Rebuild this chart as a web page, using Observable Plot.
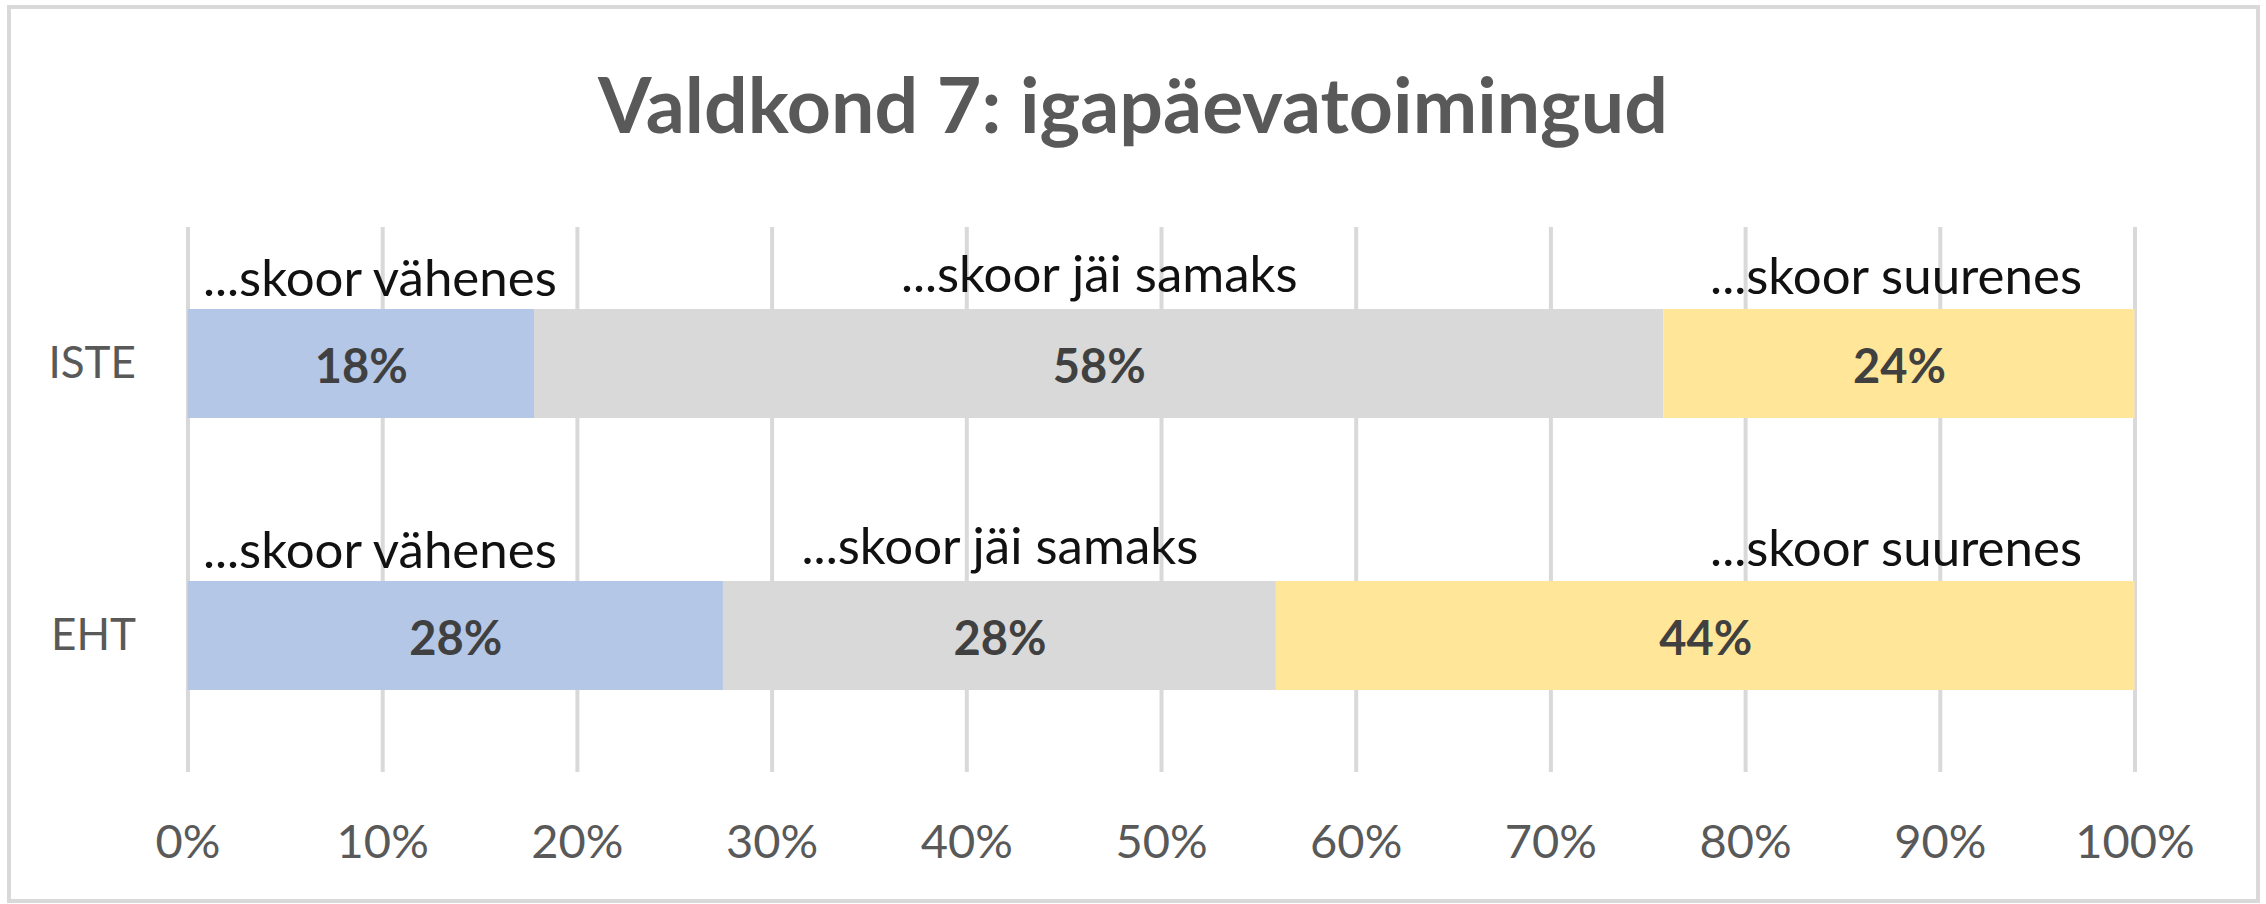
<!DOCTYPE html>
<html><head><meta charset="utf-8">
<script src="https://cdn.jsdelivr.net/npm/d3@7"></script>
<script src="https://cdn.jsdelivr.net/npm/@observablehq/plot@0.6"></script>
<style>
html,body{margin:0;padding:0;background:#fff;}
#chart{position:relative;width:2266px;height:904px;overflow:hidden;font-family:Lato,sans-serif;background:#fff;}
#frame{position:absolute;left:7px;top:5px;width:2253px;height:898px;box-sizing:border-box;border:4px solid #d9d9d9;pointer-events:none;}
#title{height:200px;box-sizing:border-box;padding-top:65px;text-align:center;font:bold 77px/1 Lato,sans-serif;color:#595959;white-space:nowrap;}
#plot svg{display:block;}
</style></head><body>
<div id="chart"><div id="title"></div><div id="plot"></div><div id="frame"></div></div>
<script>
const titleText = "Valdkond 7: igapäevatoimingud";
const groups = ["ISTE", "EHT"];
const categories = ["...skoor vähenes", "...skoor jäi samaks", "...skoor suurenes"];
const isteValues = [17.8, 58.0, 24.2];
const ehtValues = [27.5, 28.4, 44.1];
const xTicks = [0, 10, 20, 30, 40, 50, 60, 70, 80, 90, 100];
const colors = ["#b4c7e7", "#d9d9d9", "#ffe699"];

document.getElementById("title").textContent = titleText;

const series = {ISTE: isteValues, EHT: ehtValues};
const data = [];
for (const g of groups) {
  categories.forEach((c, i) => data.push({group: g, category: c, value: series[g][i]}));
}

const labelFont = 51;
const plot = Plot.plot({
  width: 2266,
  height: 704,
  marginTop: 27,
  marginBottom: 132,
  marginLeft: 187.5,
  marginRight: 131.5,
  style: {fontFamily: "Lato, sans-serif", color: "#595959", background: "transparent"},
  x: {domain: [0, 100], ticks: xTicks},
  y: {domain: groups, paddingInner: 0.6, paddingOuter: 0.3},
  color: {domain: categories, range: colors},
  marks: [
    Plot.gridX(xTicks, {stroke: "#d9d9d9", strokeWidth: 4, strokeOpacity: 1}),
    Plot.barX(data, Plot.stackX({x: "value", y: "group", fill: "category", inset: 0})),
    Plot.text(data, Plot.stackX({
      x: "value", y: "group",
      text: d => Math.round(d.value) + "%",
      fontWeight: "bold", fontSize: 47, fill: "#404040", dy: 4
    })),
    Plot.text(data.filter(d => d.category === categories[0]), {
      y: "group", text: "category", frameAnchor: "left", textAnchor: "start",
      dx: 15, dy: -84, fontSize: labelFont, fill: "#111"
    }),
    Plot.text(data, Plot.stackX({
      x: "value", y: "group",
      text: d => d.category === categories[1] ? d.category : "",
      dy: -88, fontSize: labelFont, fill: "#111"
    })),
    Plot.text(data.filter(d => d.category === categories[2]), {
      y: "group", text: "category", frameAnchor: "right", textAnchor: "end",
      dx: -53, dy: -86, fontSize: labelFont, fill: "#111"
    }),
    Plot.axisY({tickSize: 0, tickPadding: 52, fontSize: 44, label: null}),
    Plot.axisX(xTicks, {tickSize: 0, tickPadding: 52, fontSize: 47, label: null, tickFormat: d => d + "%"})
  ]
});
document.getElementById("plot").appendChild(plot);
</script>
</body></html>
